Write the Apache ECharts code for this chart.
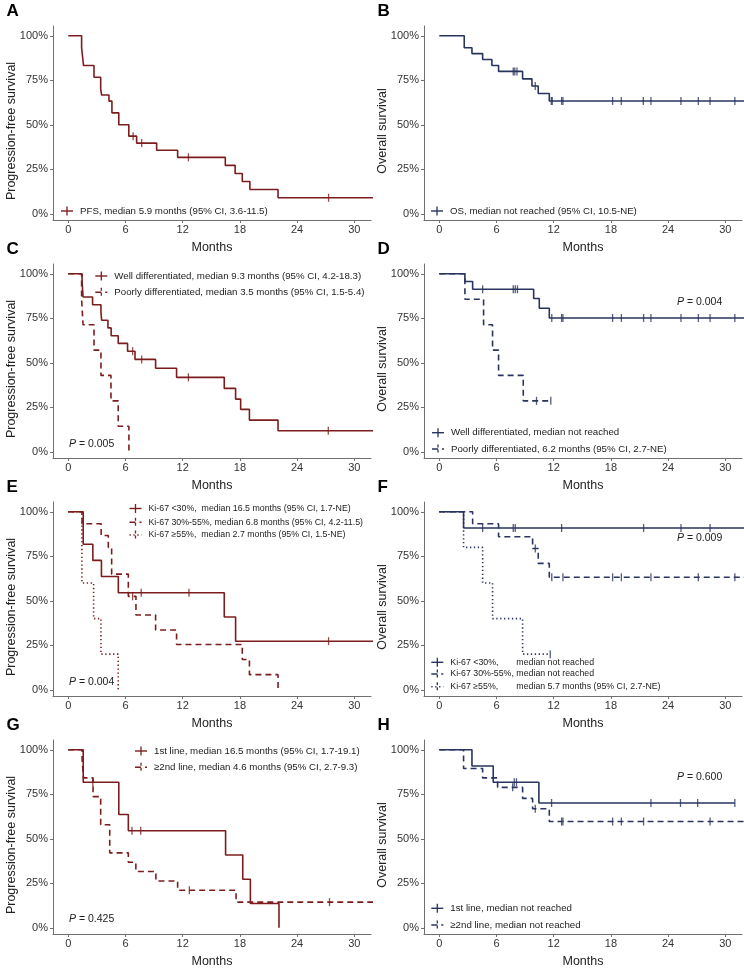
<!DOCTYPE html>
<html><head><meta charset="utf-8">
<script src="https://cdn.jsdelivr.net/npm/echarts@6/dist/echarts.min.js"></script>
<style>html,body{margin:0;padding:0;background:#fff}#c{width:744px;height:973px}</style>
</head><body><div id="c"></div>
<script>
// ---------- axis ticks ----------
const monthTicks = [0, 6, 12, 18, 24, 30];
const pctTicks = [0, 25, 50, 75, 100];

// ---------- A: PFS overall ----------
const A_pfs_t = [0, 1.4, 1.6, 2.7, 3.4, 3.5, 4.27, 4.58, 5.3, 6.35, 7.17, 9.27, 11.47, 16.47, 17.5, 18.25, 19.05, 22.0, 33];
const A_pfs_s = [100, 93.3, 83.3, 76.7, 70.0, 66.7, 63.3, 56.7, 50.0, 43.6, 39.7, 35.7, 31.7, 27.2, 22.6, 18.1, 13.6, 9.0, 9.0];
const A_pfs_cens = [6.8, 7.7, 12.6, 27.3];

// ---------- B: OS overall ----------
const B_os_t = [0, 2.62, 3.43, 4.55, 5.52, 6.22, 8.74, 9.72, 10.38, 11.54, 33];
const B_os_s = [100, 93.3, 90.0, 86.7, 83.3, 80.0, 75.8, 71.8, 67.6, 63.4, 63.4];
const B_os_cens = [7.76, 7.92, 8.15, 10.07, 11.75, 11.85, 12.83, 12.97, 18.18, 19.09, 21.4, 22.2, 25.35, 27.17, 28.4, 31.0];

// ---------- C: PFS by differentiation ----------
const C_well_t = [0, 1.45, 1.55, 2.55, 3.43, 3.5, 4.16, 4.5, 5.24, 6.22, 7.0, 9.16, 11.36, 16.36, 17.55, 18.08, 19.0, 22.0, 33];
const C_well_s = [100, 95.7, 87.0, 82.6, 78.3, 73.9, 69.6, 65.2, 60.9, 56.5, 51.9, 46.9, 41.8, 35.6, 29.6, 23.8, 17.8, 11.8, 11.8];
const C_well_cens = [6.75, 7.7, 12.6, 27.27];
const C_poor_t = [0, 1.4, 1.55, 2.7, 3.43, 4.48, 5.24, 6.36];
const C_poor_s = [100, 85.7, 71.4, 57.1, 42.9, 28.6, 14.3, 0];
const C_poor_cens = [];

// ---------- D: OS by differentiation ----------
const D_well_t = [0, 2.69, 3.5, 9.9, 10.49, 11.54, 33];
const D_well_s = [100, 95.7, 91.3, 86.1, 80.6, 75.2, 75.2];
const D_well_cens = [4.55, 7.76, 7.97, 8.2, 11.8, 12.83, 12.97, 18.18, 19.1, 21.43, 22.2, 25.35, 27.17, 28.4, 31.0];
const D_poor_t = [0, 2.69, 4.65, 5.59, 6.22, 8.81, 11.7];
const D_poor_s = [100, 85.7, 71.4, 57.1, 42.9, 28.6, 28.6];
const D_poor_cens = [10.2, 11.7];

// ---------- E: PFS by Ki-67 ----------
const E_lo_t = [0, 1.57, 2.58, 3.48, 5.25, 16.36, 17.55, 33];
const E_lo_s = [100, 81.8, 72.7, 63.6, 54.5, 40.9, 27.3, 27.3];
const E_lo_cens = [7.65, 12.66, 27.3];
const E_mid_t = [0, 1.45, 3.45, 4.2, 4.55, 6.3, 7.1, 9.16, 11.36, 18.25, 19.0, 22.0];
const E_mid_s = [100, 93.3, 86.7, 80.0, 65.0, 52.5, 42.0, 33.6, 25.4, 17.0, 8.5, 0];
const E_mid_cens = [6.75];
const E_hi_t = [0, 1.43, 2.66, 3.43, 5.24];
const E_hi_s = [100, 60, 40, 20, 0];
const E_hi_cens = [];

// ---------- F: OS by Ki-67 ----------
const F_lo_t = [0, 2.55, 33];
const F_lo_s = [100, 90.9, 90.9];
const F_lo_cens = [4.55, 7.76, 7.97, 12.83, 21.43, 25.35, 28.4];
const F_mid_t = [0, 3.5, 6.22, 9.79, 10.38, 11.54, 33];
const F_mid_s = [100, 93.3, 86.0, 79.4, 71.0, 63.2, 63.2];
const F_mid_cens = [10.07, 11.8, 12.97, 18.18, 19.1, 22.2, 27.17, 31.0];
const F_hi_t = [0, 2.55, 4.55, 5.59, 8.74, 11.64];
const F_hi_s = [100, 80, 60, 40, 20, 20];
const F_hi_cens = [11.64];

// ---------- G: PFS by line ----------
const G_first_t = [0, 1.57, 5.3, 6.3, 16.5, 18.3, 19.1, 22.1];
const G_first_s = [100, 81.8, 63.6, 54.5, 40.9, 27.3, 13.6, 0];
const G_first_cens = [2.58, 6.68, 7.6];
const G_second_t = [0, 1.45, 1.6, 2.6, 3.4, 4.35, 6.3, 7.09, 9.19, 11.47, 17.6, 33];
const G_second_s = [100, 94.7, 84.2, 73.7, 57.9, 42.1, 36.8, 31.6, 26.3, 21.1, 14.4, 14.4];
const G_second_cens = [12.7, 27.4];

// ---------- H: OS by line ----------
const H_first_t = [0, 3.43, 5.66, 10.45, 31.0];
const H_first_s = [100, 90.9, 81.8, 70.1, 70.1];
const H_first_cens = [7.87, 8.1, 11.78, 22.2, 25.3, 27.1, 31.0];
const H_second_t = [0, 2.55, 4.55, 6.12, 8.74, 9.79, 11.54, 33];
const H_second_s = [100, 89.5, 84.2, 78.9, 72.7, 66.9, 59.7, 59.7];
const H_second_cens = [7.7, 10.07, 12.83, 12.97, 18.18, 19.1, 21.43, 28.4];

// ---------- styling / layout ----------
const RED = '#7C1D1D', NAVY = '#29345F';
const FONT = '"Liberation Sans", Arial, Helvetica, sans-serif';
const AXC = '#707070';
const DASH = [6, 4], DOT = [1.3, 2.6];
const colLeft = [53, 424], rowTop = [26, 264, 502, 740];
const GW = 318, GH = 194;
const XMIN = -1.6, XMAX = 31.75, YMIN = -3.5, YMAX = 105.5;

const panels = [
  {L:'A', col:0, row:0, yt:'Progression-free survival', tx:80, ly:[211], fs:9.7,
   curves:[[A_pfs_t, A_pfs_s, A_pfs_cens, RED, 'solid', 'PFS, median 5.9 months (95% CI, 3.6-11.5)']]},
  {L:'B', col:1, row:0, yt:'Overall survival', tx:450, ly:[211], fs:9.7,
   curves:[[B_os_t, B_os_s, B_os_cens, NAVY, 'solid', 'OS, median not reached (95% CI, 10.5-NE)']]},
  {L:'C', col:0, row:1, yt:'Progression-free survival', tx:114.3, ly:[276, 292.3], fs:9.7, p:'0.005', px:69, py:444,
   curves:[[C_well_t, C_well_s, C_well_cens, RED, 'solid', 'Well differentiated, median 9.3 months (95% CI, 4.2-18.3)'],
           [C_poor_t, C_poor_s, C_poor_cens, RED, 'dashed', 'Poorly differentiated, median 3.5 months (95% CI, 1.5-5.4)']]},
  {L:'D', col:1, row:1, yt:'Overall survival', tx:451, ly:[432.7, 449], fs:9.7, p:'0.004', px:677, py:301.7,
   curves:[[D_well_t, D_well_s, D_well_cens, NAVY, 'solid', 'Well differentiated, median not reached'],
           [D_poor_t, D_poor_s, D_poor_cens, NAVY, 'dashed', 'Poorly differentiated, 6.2 months (95% CI, 2.7-NE)']]},
  {L:'E', col:0, row:2, yt:'Progression-free survival', tx:148.5, ly:[508.5, 522.3, 535], fs:8.8, p:'0.004', px:69, py:682,
   curves:[[E_lo_t, E_lo_s, E_lo_cens, RED, 'solid', 'Ki-67 <30%,  median 16.5 months (95% CI, 1.7-NE)'],
           [E_mid_t, E_mid_s, E_mid_cens, RED, 'dashed', 'Ki-67 30%-55%, median 6.8 months (95% CI, 4.2-11.5)'],
           [E_hi_t, E_hi_s, E_hi_cens, RED, 'dotted', 'Ki-67 \u226555%,  median 2.7 months (95% CI, 1.5-NE)']]},
  {L:'F', col:1, row:2, yt:'Overall survival', tx:450.3, ly:[662.3, 674, 686.7], fs:8.8, p:'0.009', px:677, py:538.3, split:true,
   curves:[[F_lo_t, F_lo_s, F_lo_cens, NAVY, 'solid', ['Ki-67 <30%,', 'median not reached']],
           [F_mid_t, F_mid_s, F_mid_cens, NAVY, 'dashed', ['Ki-67 30%-55%,', 'median not reached']],
           [F_hi_t, F_hi_s, F_hi_cens, NAVY, 'dotted', ['Ki-67 \u226555%,', 'median 5.7 months (95% CI, 2.7-NE)']]]},
  {L:'G', col:0, row:3, yt:'Progression-free survival', tx:154, ly:[751, 767.3], fs:9.7, p:'0.425', px:69, py:919.3,
   curves:[[G_first_t, G_first_s, G_first_cens, RED, 'solid', '1st line, median 16.5 months (95% CI, 1.7-19.1)'],
           [G_second_t, G_second_s, G_second_cens, RED, 'dashed', '\u22652nd line, median 4.6 months (95% CI, 2.7-9.3)']]},
  {L:'H', col:1, row:3, yt:'Overall survival', tx:450.3, ly:[908.3, 925], fs:9.7, p:'0.600', px:677, py:776.7,
   curves:[[H_first_t, H_first_s, H_first_cens, NAVY, 'solid', '1st line, median not reached'],
           [H_second_t, H_second_s, H_second_cens, NAVY, 'dashed', '\u22652nd line, median not reached']]}
];

function survAt(t, ts, ss) {
  let s = ss[0];
  for (let i = 0; i < ts.length; i++) { if (ts[i] <= t) s = ss[i]; else break; }
  return s;
}
function dashOf(k) { return k === 'dashed' ? DASH : (k === 'dotted' ? DOT : null); }

const mcv = document.createElement('canvas').getContext('2d');
function textW(str, fs) { mcv.font = fs + 'px ' + FONT; return mcv.measureText(str).width; }

const grid = [], xAxis = [], yAxis = [], series = [], graphic = [];
panels.forEach((P, i) => {
  const left = colLeft[P.col], top = rowTop[P.row];
  grid.push({left: left, top: top, width: GW, height: GH, containLabel: false});
  xAxis.push({
    type: 'value', gridIndex: i, min: XMIN, max: XMAX,
    axisLine: {show: true, onZero: false, lineStyle: {color: AXC, width: 1}},
    axisTick: {show: true, length: 3, customValues: monthTicks, lineStyle: {color: AXC, width: 1}},
    axisLabel: {customValues: monthTicks, margin: 4, fontSize: 11, color: '#333', fontFamily: FONT},
    splitLine: {show: false}
  });
  yAxis.push({
    type: 'value', gridIndex: i, min: YMIN, max: YMAX,
    axisLine: {show: true, onZero: false, lineStyle: {color: AXC, width: 1}},
    axisTick: {show: true, length: 3, customValues: pctTicks, lineStyle: {color: AXC, width: 1}},
    axisLabel: {customValues: pctTicks, margin: 5, fontSize: 11, color: '#333', fontFamily: FONT, formatter: '{value}%'},
    splitLine: {show: false}
  });
  P.curves.forEach((c, j) => {
    const [ts, ss, cens, color, kind, label] = c;
    series.push({
      type: 'line', xAxisIndex: i, yAxisIndex: i, step: 'end', showSymbol: false, symbol: 'none',
      data: ts.map((t, k) => [t, ss[k]]), clip: true, silent: true,
      lineStyle: {color: color, width: 1.6, type: kind === 'solid' ? 'solid' : dashOf(kind)},
      z: 3
    });
    if (cens.length) series.push({
      type: 'scatter', xAxisIndex: i, yAxisIndex: i, symbol: 'rect', symbolSize: [1.3, 8],
      data: cens.map(t => [t, survAt(t, ts, ss)]), itemStyle: {color: color}, clip: true, silent: true, z: 4
    });
    // legend key
    const y = P.ly[j], tx = P.tx;
    const d = dashOf(kind);
    graphic.push({type: 'line', shape: {x1: tx - 19, y1: y, x2: tx - 7, y2: y},
      style: {stroke: color, lineWidth: 1.4, lineDash: d}, silent: true});
    graphic.push({type: 'line', shape: {x1: tx - 13, y1: y - 4.5, x2: tx - 13, y2: y + 4.5},
      style: {stroke: color, lineWidth: 1.3, lineDash: d ? [3, 2] : null}, silent: true});
    if (Array.isArray(label)) {
      const off = textW('Ki-67 30%-55%, ', P.fs);
      graphic.push({type: 'text', style: {text: label[0], x: tx, y: y, font: P.fs + 'px ' + FONT, fill: '#222', verticalAlign: 'middle', align: 'left'}});
      graphic.push({type: 'text', style: {text: label[1], x: tx + off, y: y, font: P.fs + 'px ' + FONT, fill: '#222', verticalAlign: 'middle', align: 'left'}});
    } else {
      graphic.push({type: 'text', style: {text: label, x: tx, y: y, font: P.fs + 'px ' + FONT, fill: '#222', verticalAlign: 'middle', align: 'left'}});
    }
  });
  // panel letter
  graphic.push({type: 'text', style: {text: P.L, x: left - 46.5, y: top - 15 + (P.row === 0 ? 0 : 0.5), font: 'bold 17px ' + FONT, fill: '#000', verticalAlign: 'middle', align: 'left'}});
  // y title
  graphic.push({type: 'text', x: left - 41, y: top + GH / 2 + 8, rotation: Math.PI / 2,
    style: {text: P.yt, x: 0, y: 0, font: '12.5px ' + FONT, fill: '#222', align: 'center', verticalAlign: 'middle'}});
  // x title
  graphic.push({type: 'text', style: {text: 'Months', x: left + GW / 2, y: top + GH + 28, font: '12.5px ' + FONT, fill: '#222', align: 'center', verticalAlign: 'middle'}});
  // p value
  if (P.p) graphic.push({type: 'text', style: {text: '{i|P} = ' + P.p, x: P.px, y: P.py, font: '10.5px ' + FONT, fill: '#222', verticalAlign: 'middle', align: 'left',
    rich: {i: {fontStyle: 'italic', fontSize: 10.5, fontFamily: FONT, fill: '#222'}}}});
});

const chart = echarts.init(document.getElementById('c'), null, {renderer: 'canvas'});
chart.setOption({animation: false, backgroundColor: '#fff', grid, xAxis, yAxis, series, graphic});
</script></body></html>
